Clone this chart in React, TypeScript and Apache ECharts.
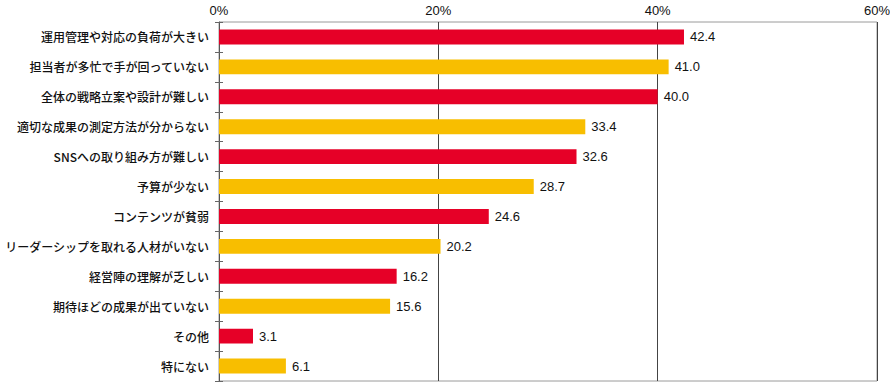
import React, { useEffect, useRef } from "react";
import * as echarts from "echarts";

const categories = [
  "運用管理や対応の負荷が大きい",
  "担当者が多忙で手が回っていない",
  "全体の戦略立案や設計が難しい",
  "適切な成果の測定方法が分からない",
  "SNSへの取り組み方が難しい",
  "予算が少ない",
  "コンテンツが貧弱",
  "リーダーシップを取れる人材がいない",
  "経営陣の理解が乏しい",
  "期待ほどの成果が出ていない",
  "その他",
  "特にない",
];
const values = [42.4, 41.0, 40.0, 33.4, 32.6, 28.7, 24.6, 20.2, 16.2, 15.6, 3.1, 6.1];
const RED = "#E60027";
const YELLOW = "#F8BE00";

export default function App() {
  const ref = useRef<HTMLDivElement>(null);
  useEffect(() => {
    document.body.style.margin = "0";
    const chart = echarts.init(ref.current!, undefined, { renderer: "svg" });
    const font = "'Noto Sans CJK JP', 'Liberation Sans', sans-serif";
    chart.setOption({
      animation: false,
      grid: {
        left: 219,
        right: 13,
        top: 22,
        bottom: 6,
        containLabel: false,
        outerBoundsMode: "none",
        show: true,
        borderColor: "#9a9a9a",
        borderWidth: 1,
      },
      xAxis: {
        type: "value",
        position: "top",
        min: 0,
        max: 60,
        interval: 20,
        axisLine: { show: false },
        axisTick: { show: false },
        axisLabel: {
          formatter: "{value}%",
          color: "#111",
          fontSize: 13,
          fontFamily: "'Liberation Sans', Arial, sans-serif",
          margin: 5,
        },
        splitLine: { show: true, lineStyle: { color: "#444", width: 1 } },
      },
      yAxis: [
        {
          type: "category",
          data: categories,
          inverse: true,
          axisLine: { show: true, lineStyle: { color: "#555", width: 1 } },
          axisTick: { show: true, length: 4, lineStyle: { color: "#666" } },
          axisLabel: {
            color: "#111",
            fontSize: 12,
            fontWeight: 500,
            fontFamily: font,
            margin: 10,
          },
          splitLine: { show: false },
        },
        {
          type: "category",
          data: categories,
          inverse: true,
          position: "left",
          axisLine: { show: false },
          axisTick: { show: true, inside: true, length: 4, lineStyle: { color: "#666" } },
          axisLabel: { show: false },
          splitLine: { show: false },
        },
      ],
      series: [
        {
          type: "bar",
          yAxisIndex: 0,
          barCategoryGap: "50%",
          data: values.map((v, i) => ({
            value: v,
            itemStyle: { color: i % 2 === 0 ? RED : YELLOW },
          })),
          label: {
            show: true,
            position: "right",
            distance: 6,
            color: "#111",
            fontSize: 13,
            fontFamily: "'Liberation Sans', Arial, sans-serif",
            formatter: (p: any) => Number(p.value).toFixed(1),
          },
        },
      ],
    });
    return () => chart.dispose();
  }, []);
  return <div ref={ref} style={{ width: 890, height: 387 }} />;
}
